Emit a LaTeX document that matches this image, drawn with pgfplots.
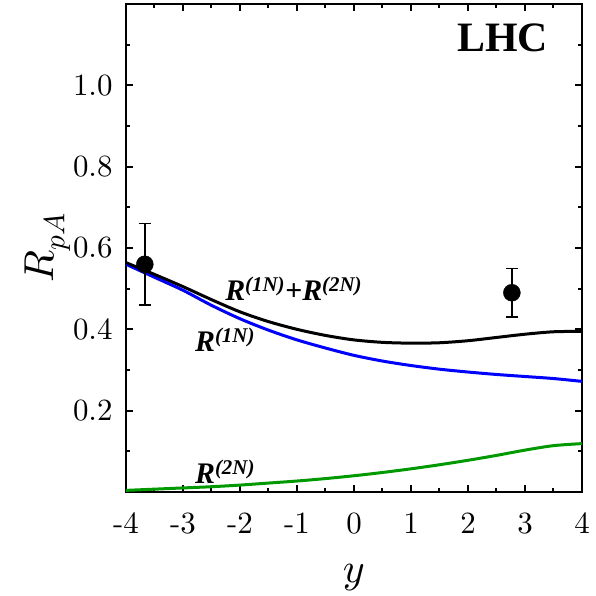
\documentclass[border=0pt]{standalone}
\usepackage{pgfplots}
\pgfplotsset{compat=1.18}
\usepackage{fontspec}
\newfontfamily\timesfont{Liberation Serif}
% scalable Computer Modern for the large axis numbers and labels
\DeclareFontShape{OML}{cmm}{m}{it}{<-6>cmmi5<6-7>cmmi6<7-8>cmmi7<8-9>cmmi8<9-10>cmmi9<10->cmmi10}{}
\DeclareFontShape{OT1}{cmr}{m}{n}{<-6>cmr5<6-7>cmr6<7-8>cmr7<8-9>cmr8<9-10>cmr9<10->cmr10}{}
\newcommand\ticksize{\fontencoding{OT1}\fontfamily{cmr}\fontseries{m}\fontshape{n}\fontsize{31}{34}\selectfont}
\begin{document}
\begin{tikzpicture}
\begin{axis}[
  scale only axis,
  width=456bp, height=488bp,
  xmin=-4, xmax=4, ymin=0, ymax=1.2,
  xtick={-4,-3,...,4},
  xticklabels={-4,-3,-2,-1,0,1,2,3,4},
  minor xtick={-3.5,-2.5,...,3.5},
  ytick={0.2,0.4,0.6,0.8,1.0},
  yticklabels={0.2,0.4,0.6,0.8,1.0},
  minor ytick={0.1,0.3,0.5,0.7,0.9,1.1},
  extra y ticks={1.2},
  extra y tick labels={},
  /pgf/number format/assume math mode=true,
  tick align=inside,
  major tick length=7bp,
  minor tick length=4bp,
  every tick/.style={black, line width=2bp},
  axis line style={line width=2.6bp},
  tick label style={font=\ticksize},
  xticklabel style={font=\ticksize, yshift=-18bp},
  yticklabel style={font=\ticksize, xshift=-10bp},
  xlabel={$y$},
  ylabel={$R_{pA}$},
  label style={font=\fontsize{42}{46}\selectfont},
  xlabel style={yshift=-24bp},
  ylabel style={yshift=-4bp},
  clip=false,
]
% R^(1N)
\addplot[blue, line width=3bp, smooth] coordinates {
  (-4,0.560) (-3.5,0.528) (-3,0.496) (-2.5,0.459) (-2,0.426) (-1.5,0.398)
  (-1,0.374) (-0.5,0.354) (0,0.336) (0.5,0.322) (1,0.311) (1.5,0.302)
  (2,0.295) (2.5,0.289) (3,0.284) (3.5,0.279) (4,0.272)};
% R^(2N)
\addplot[green!60!black, line width=3bp, smooth] coordinates {
  (-4,0.004) (-3.5,0.007) (-3,0.010) (-2.5,0.013) (-2,0.017) (-1.5,0.022)
  (-1,0.027) (-0.5,0.033) (0,0.040) (0.5,0.048) (1,0.057) (1.5,0.067)
  (2,0.078) (2.5,0.090) (3,0.103) (3.5,0.114) (4,0.119)};
% R^(1N)+R^(2N)
\addplot[black, line width=3bp, smooth] coordinates {
  (-4,0.564) (-3.5,0.535) (-3,0.505) (-2.5,0.473) (-2,0.443) (-1.5,0.419)
  (-1,0.400) (-0.5,0.385) (0,0.374) (0.5,0.368) (1,0.366) (1.5,0.367)
  (2,0.372) (2.5,0.380) (3,0.388) (3.5,0.394) (4,0.395)};
% data
\addplot[black, only marks, mark=*, mark size=8.5bp,
  error bars/.cd, y dir=both, y explicit,
  error bar style={line width=1.5bp}, error mark options={rotate=90, mark size=6bp, line width=1.5bp}]
  coordinates {(-3.67,0.56) +- (0,0.10) (2.77,0.49) +- (0,0.06)};
\node[font=\timesfont\bfseries\itshape\fontsize{30}{34}\selectfont, anchor=base west]
  at (axis cs:-2.32,0.47) {R\textsuperscript{(1N)}+R\textsuperscript{(2N)}};
\node[font=\timesfont\bfseries\itshape\fontsize{30}{34}\selectfont, anchor=base west]
  at (axis cs:-2.85,0.345) {R\textsuperscript{(1N)}};
\node[font=\timesfont\bfseries\itshape\fontsize{30}{34}\selectfont, anchor=base west]
  at (axis cs:-2.85,0.022) {R\textsuperscript{(2N)}};
\node[font=\timesfont\bfseries\fontsize{42}{46}\selectfont]
  at (axis cs:2.61,1.116) {LHC};
\end{axis}
\pgfresetboundingbox
\path (current axis.south west) ++(-126bp,-104bp) rectangle ++(596bp,596bp);
\end{tikzpicture}
\end{document}
